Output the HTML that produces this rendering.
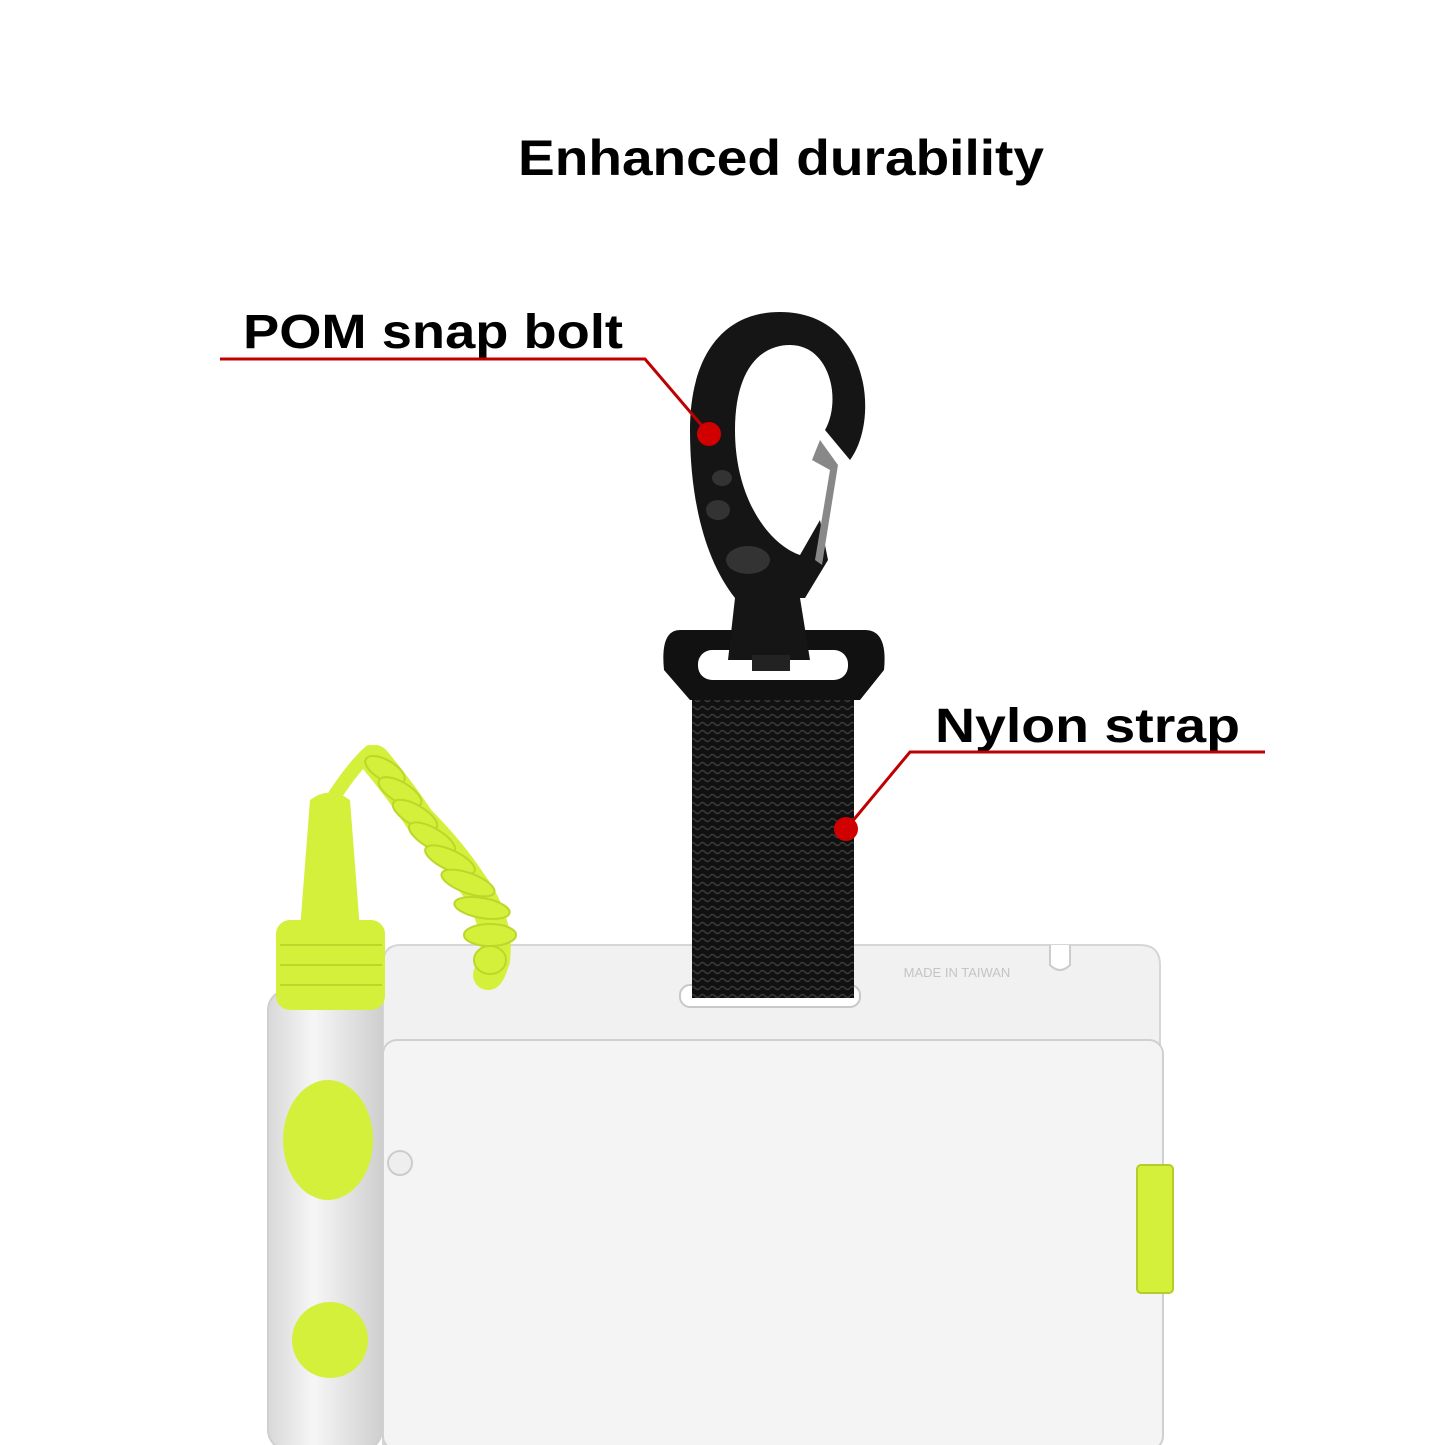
<!DOCTYPE html>
<html><head><meta charset="utf-8"><style>
html,body{margin:0;padding:0;background:#fff;width:1445px;height:1445px;overflow:hidden}
svg{display:block}
</style></head><body>
<svg width="1445" height="1445" viewBox="0 0 1445 1445" xmlns="http://www.w3.org/2000/svg">
<defs>
<pattern id="weave" width="10" height="8" patternUnits="userSpaceOnUse">
<rect width="10" height="8" fill="#111"/>
<path d="M0 4 Q2.5 1 5 4 T10 4" stroke="#3a3a3a" stroke-width="1.5" fill="none"/>
</pattern>
<linearGradient id="pen" x1="0" x2="1"><stop offset="0" stop-color="#d8d8d8"/><stop offset="0.4" stop-color="#f6f6f6"/><stop offset="1" stop-color="#cfcfcf"/></linearGradient>
</defs>
<text x="518" y="175" textLength="526" lengthAdjust="spacingAndGlyphs" font-family="Liberation Sans, sans-serif" font-weight="bold" font-size="50" fill="#000">Enhanced durability</text>

<!-- board -->
<path d="M400 945 H1140 Q1160 945 1160 965 V1445 H383 V965 Q383 945 400 945 Z" fill="#f1f1f1" stroke="#d6d6d6" stroke-width="2"/>
<rect x="383" y="1040" width="780" height="410" rx="14" fill="#f4f4f4" stroke="#d0d0d0" stroke-width="2"/>
<rect x="680" y="985" width="180" height="22" rx="10" fill="#fff" stroke="#c8c8c8" stroke-width="2"/>
<text x="957" y="977" font-family="Liberation Sans, sans-serif" font-size="13" fill="#c4c4c4" text-anchor="middle">MADE IN TAIWAN</text>
<path d="M1050 945 V965 Q1060 975 1070 965 V945" fill="#fff" stroke="#ccc" stroke-width="2"/>
<circle cx="400" cy="1163" r="12" fill="#eee" stroke="#ccc" stroke-width="2"/>
<rect x="1137" y="1165" width="36" height="128" rx="4" fill="#d4f03a" stroke="#b5cc2a" stroke-width="2"/>

<!-- pen -->
<rect x="268" y="990" width="114" height="460" rx="20" fill="url(#pen)" stroke="#cfcfcf" stroke-width="2"/>
<ellipse cx="328" cy="1140" rx="45" ry="60" fill="#d4f03a"/>
<circle cx="330" cy="1340" r="38" fill="#d4f03a"/>
<path d="M310 800 Q330 785 350 800 L360 930 H300 Z" fill="#d4f03a"/>
<rect x="276" y="920" width="109" height="90" rx="14" fill="#d4f03a"/>
<g stroke="#bcd62a" stroke-width="2"><line x1="280" y1="945" x2="382" y2="945"/><line x1="280" y1="965" x2="382" y2="965"/><line x1="280" y1="985" x2="382" y2="985"/></g>

<!-- coil -->
<g fill="none" stroke="#d4f03a" stroke-linecap="round">
<path d="M335 795 Q355 765 370 752" stroke-width="14"/>
<path d="M375 760 Q400 790 420 820 Q450 850 470 880 Q500 920 495 960 Q490 975 488 975" stroke-width="30"/>
</g>
<g fill="#d4f03a" stroke="#bcd62a" stroke-width="2">
<ellipse cx="385" cy="770" rx="22" ry="10" transform="rotate(30 385 770)"/>
<ellipse cx="400" cy="792" rx="24" ry="10" transform="rotate(30 400 792)"/>
<ellipse cx="415" cy="815" rx="25" ry="10" transform="rotate(30 415 815)"/>
<ellipse cx="432" cy="838" rx="26" ry="10" transform="rotate(30 432 838)"/>
<ellipse cx="450" cy="860" rx="27" ry="10" transform="rotate(25 450 860)"/>
<ellipse cx="468" cy="883" rx="28" ry="10" transform="rotate(20 468 883)"/>
<ellipse cx="482" cy="908" rx="28" ry="10" transform="rotate(10 482 908)"/>
<ellipse cx="490" cy="935" rx="26" ry="11"/>
<ellipse cx="490" cy="960" rx="16" ry="14"/>
</g>

<!-- strap -->
<rect x="692" y="680" width="162" height="318" fill="url(#weave)"/>
<!-- swivel -->
<path d="M680 630 H865 Q888 630 884 670 L860 700 H690 L664 670 Q660 630 680 630 Z" fill="#111"/>
<rect x="698" y="650" width="150" height="30" rx="14" fill="#fff"/>
<path d="M735 598 H800 L810 660 H728 Z" fill="#151515"/>
<rect x="752" y="655" width="38" height="16" fill="#222"/>
<!-- carabiner -->
<path d="M780 312 C720 312 690 360 690 430 C690 500 705 560 735 598 H805 L828 560 L820 520 L800 555 C770 545 735 500 735 430 C735 370 760 345 790 345 C830 345 842 400 825 430 L850 460 C880 420 870 312 780 312 Z" fill="#151515"/>
<path d="M820 440 L812 460 L830 470 L815 560 L822 565 L838 465 Z" fill="#888"/>
<g fill="#333"><ellipse cx="748" cy="560" rx="22" ry="14"/><ellipse cx="718" cy="510" rx="12" ry="10"/><ellipse cx="722" cy="478" rx="10" ry="8"/></g>

<!-- callouts -->
<text x="243" y="348" textLength="380" lengthAdjust="spacingAndGlyphs" font-family="Liberation Sans, sans-serif" font-weight="bold" font-size="48" fill="#000">POM snap bolt</text>
<polyline points="220,359 645,359 709,434" fill="none" stroke="#c00000" stroke-width="3"/>
<circle cx="709" cy="434" r="12" fill="#d00000"/>
<text x="935" y="742" textLength="305" lengthAdjust="spacingAndGlyphs" font-family="Liberation Sans, sans-serif" font-weight="bold" font-size="48" fill="#000">Nylon strap</text>
<polyline points="1265,752 910,752 846,829" fill="none" stroke="#c00000" stroke-width="3"/>
<circle cx="846" cy="829" r="12" fill="#d00000"/>
</svg>
</body></html>
